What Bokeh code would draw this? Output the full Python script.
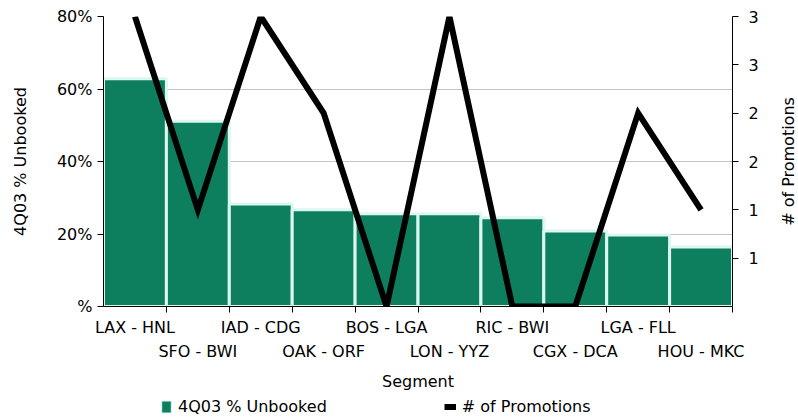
from bokeh.plotting import figure
from bokeh.layouts import column, row
from bokeh.models import (Range1d, LinearAxis, FixedTicker, Legend, LegendItem,
                          ColumnDataSource, Grid)
from bokeh.embed import file_html
from bokeh.resources import INLINE

# ---- data ----
segments = ["LAX - HNL", "SFO - BWI", "IAD - CDG", "OAK - ORF", "BOS - LGA",
            "LON - YYZ", "RIC - BWI", "CGX - DCA", "LGA - FLL", "HOU - MKC"]
unbooked_pct = [62.8, 51.1, 28.3, 26.7, 25.6, 25.6, 24.5, 20.8, 19.7, 16.4]
promotions = [3, 1, 3, 2, 0, 3, 0, 0, 2, 1]
pct_ticks = [0, 20, 40, 60, 80]
pct_labels = ["%", "20%", "40%", "60%", "80%"]
promo_ticks = [0.5, 1, 1.5, 2, 2.5, 3]
promo_labels = ["1", "1", "2", "2", "3", "3"]
series_names = ["4Q03 % Unbooked", "# of Promotions"]

xs = [i + 0.5 for i in range(len(segments))]
src = ColumnDataSource(dict(x=xs, pct=unbooked_pct, promo=promotions, seg=segments))

FONT = "DejaVu Sans"
GREEN = "#0e7f5e"
EDGE = "#dcf7f2"
FS = "16px"


def style_axis(ax):
    ax.major_label_text_font = FONT
    ax.major_label_text_font_size = FS
    ax.major_label_text_color = "black"
    ax.axis_label_text_font = FONT
    ax.axis_label_text_font_size = FS
    ax.axis_label_text_font_style = "normal"
    ax.axis_label_text_color = "black"


p = figure(frame_width=629, frame_height=290, output_backend="svg", toolbar_location=None,
           x_range=Range1d(0, len(segments)), y_range=Range1d(0, 80),
           min_border_left=103, min_border_right=35, min_border_top=16,
           min_border_bottom=83, x_axis_type=None, y_axis_type=None)
p.extra_y_ranges = {"promo": Range1d(0, 3)}
p.outline_line_color = None
p.background_fill_color = "white"
p.border_fill_color = "white"

p.add_layout(Grid(dimension=1, ticker=FixedTicker(ticks=pct_ticks),
                  grid_line_color="#c4c4c4", grid_line_width=1))

# left axis
yl = LinearAxis(ticker=FixedTicker(ticks=pct_ticks),
                major_label_overrides={t: l for t, l in zip(pct_ticks, pct_labels)},
                axis_label=series_names[0])
# right axis (its title is drawn by the narrow strip on the right)
yr = LinearAxis(y_range_name="promo", ticker=FixedTicker(ticks=promo_ticks),
                major_label_overrides={t: l for t, l in zip(promo_ticks, promo_labels)})
for ax, so, lso in ((yl, 5, 24), (yr, 10, 10)):
    ax.axis_line_color = "black"
    ax.major_tick_line_color = "black"
    ax.major_tick_out = 6
    ax.major_tick_in = 0
    ax.minor_tick_out = 0
    ax.minor_tick_in = 0
    ax.major_label_standoff = so
    ax.axis_label_standoff = lso
    style_axis(ax)
p.add_layout(yl, "left")
p.add_layout(yr, "right")

bars = p.vbar(x="x", top="pct", width=1.0, source=src, fill_color=GREEN,
              line_color=EDGE, line_width=3)
line = p.line(x="x", y="promo", source=src, y_range_name="promo",
              line_width=6, line_color="black", line_join="miter")

# x axes: two staggered rows of category labels
xa = LinearAxis(ticker=FixedTicker(ticks=xs[0::2], minor_ticks=list(range(1, len(segments) + 1))),
                major_label_overrides={xs[i]: segments[i] for i in range(0, len(segments), 2)})
xa.axis_line_color = "black"
xa.major_tick_out = 0
xa.major_tick_in = 0
xa.minor_tick_out = 6
xa.minor_tick_in = 0
xa.minor_tick_line_color = "black"
xa.major_label_standoff = 5

xb = LinearAxis(ticker=FixedTicker(ticks=xs[1::2]),
                major_label_overrides={xs[i]: segments[i] for i in range(1, len(segments), 2)},
                axis_label="Segment")
xb.axis_line_color = None
xb.major_tick_out = 0
xb.major_tick_in = 0
xb.minor_tick_out = 0
xb.minor_tick_in = 0
xb.major_label_standoff = 2
xb.axis_label_standoff = 8
for ax in (xa, xb):
    style_axis(ax)
p.add_layout(xa, "below")
p.add_layout(xb, "below")

# narrow strip on the right carrying the secondary axis title (reads bottom-to-top)
rf = figure(frame_width=1, frame_height=290, output_backend="svg", toolbar_location=None,
            x_range=Range1d(0, 1), y_range=Range1d(0, 3),
            min_border_left=30, min_border_right=0, min_border_top=16,
            min_border_bottom=83, x_axis_type=None, y_axis_type=None)
rf.outline_line_color = None
rt = LinearAxis(ticker=FixedTicker(ticks=[]), axis_label=series_names[1])
rt.axis_line_color = None
rt.major_tick_out = 0
rt.major_tick_in = 0
rt.minor_tick_out = 0
rt.minor_tick_in = 0
rt.major_label_standoff = 0
rt.axis_label_standoff = 0
style_axis(rt)
rf.add_layout(rt, "left")

# legend strip below the chart (its renderers use the same data but lie outside its view)
lf = figure(frame_width=798, frame_height=30, output_backend="svg", toolbar_location=None,
            x_range=Range1d(-100, -99), y_range=Range1d(-100, -99), min_border=0,
            x_axis_type=None, y_axis_type=None)
lf.outline_line_color = None
lf.xgrid.visible = False
lf.ygrid.visible = False
lg_bar = lf.vbar(x="x", top="pct", source=src, width=1.0, fill_color=GREEN,
                 line_color=EDGE, line_width=1)
lg_line = lf.line(x="x", y="promo", source=src, line_width=6, line_color="black")
legend = Legend(items=[LegendItem(label=series_names[0], renderers=[lg_bar]),
                       LegendItem(label=series_names[1], renderers=[lg_line])],
                orientation="horizontal", location=(160, 7),
                border_line_color=None, background_fill_alpha=0,
                label_text_font=FONT, label_text_font_size=FS, label_text_color="black",
                glyph_width=12, glyph_height=15, spacing=117, padding=0, margin=0,
                label_standoff=6)
lf.add_layout(legend, "center")

layout = column(row(p, rf, spacing=0), lf, spacing=0)
open("out.html", "w").write(file_html(layout, INLINE))
